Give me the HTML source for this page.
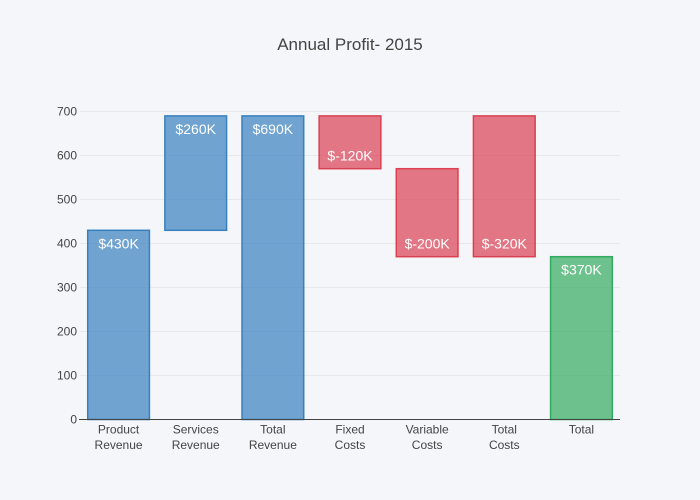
<!DOCTYPE html>
<html><head><meta charset="utf-8"><style>
body{margin:0;background:#f5f6f9;}
svg{display:block;font-family:"Liberation Sans","Open Sans",sans-serif;}
</style></head><body>
<svg id="chart" width="700" height="500">
<rect width="700" height="500" fill="#f5f6f9"/>
<text x="350" y="50" text-anchor="middle" font-size="17" fill="#444">Annual Profit- 2015</text>
<g id="grid"></g><g id="bars"></g><g id="axes"></g>
</svg>
<script>
const categories=[["Product","Revenue"],["Services","Revenue"],["Total","Revenue"],["Fixed","Costs"],["Variable","Costs"],["Total","Costs"],["Total"]];
const bases=[0,430,0,570,370,370,0];
const tops=[430,690,690,690,570,690,370];
const labels=["$430K","$260K","$690K","$-120K","$-200K","$-320K","$370K"];
const kinds=["rev","rev","rev","cost","cost","cost","total"];
const yTicks=[0,100,200,300,400,500,600,700];
const NS="http://www.w3.org/2000/svg";
const x0=80,x1=620,yB=419.5,yT=111.5,yMax=700;
const step=(x1-x0)/categories.length;
const xc=i=>x0+step*(i+0.5);
const y=v=>yB-(v/yMax)*(yB-yT);
const colors={rev:["rgba(55,128,191,0.7)","rgb(55,128,191)"],cost:["rgba(219,64,82,0.7)","rgb(219,64,82)"],total:["rgba(50,171,96,0.7)","rgb(50,171,96)"]};
function mk(tag,attrs,parent,txt){const e=document.createElementNS(NS,tag);for(const k in attrs)e.setAttribute(k,attrs[k]);if(txt!==undefined)e.textContent=txt;parent.appendChild(e);return e;}
const grid=document.getElementById('grid'),bars=document.getElementById('bars'),axes=document.getElementById('axes');
yTicks.forEach(t=>{
  if(t>0){const g=mk('line',{x1:x0,x2:x1,y1:y(t),y2:y(t),stroke:"#e6e8ee","stroke-width":1},grid);
  
  }
  const l=mk('text',{x:x0-3,y:y(t)+4,"text-anchor":"end","font-size":12,fill:"#444"},axes,String(t));
  
  
});
const bw=step*0.8;
categories.forEach((c,i)=>{
  const [f,s]=colors[kinds[i]];
  const r=mk('rect',{x:xc(i)-bw/2,y:y(tops[i]),width:bw,height:y(bases[i])-y(tops[i]),fill:f,stroke:s,"stroke-width":1.5},bars);
  
  
  const ly=kinds[i]==="cost"?y(bases[i])-8:y(tops[i])+18;
  const t=mk('text',{x:xc(i),y:ly,"text-anchor":"middle","font-size":14,fill:"#fff"},bars,labels[i]);
  
  
  c.forEach((w,j)=>{const lt=mk('text',{x:xc(i),y:yB+14+j*15.5,"text-anchor":"middle","font-size":12,fill:"#444"},axes,w);
  
  });
});
const ax=mk('line',{x1:x0-1,x2:x1,y1:yB,y2:yB,stroke:"#444","stroke-width":1},axes);


</script>
</body></html>
